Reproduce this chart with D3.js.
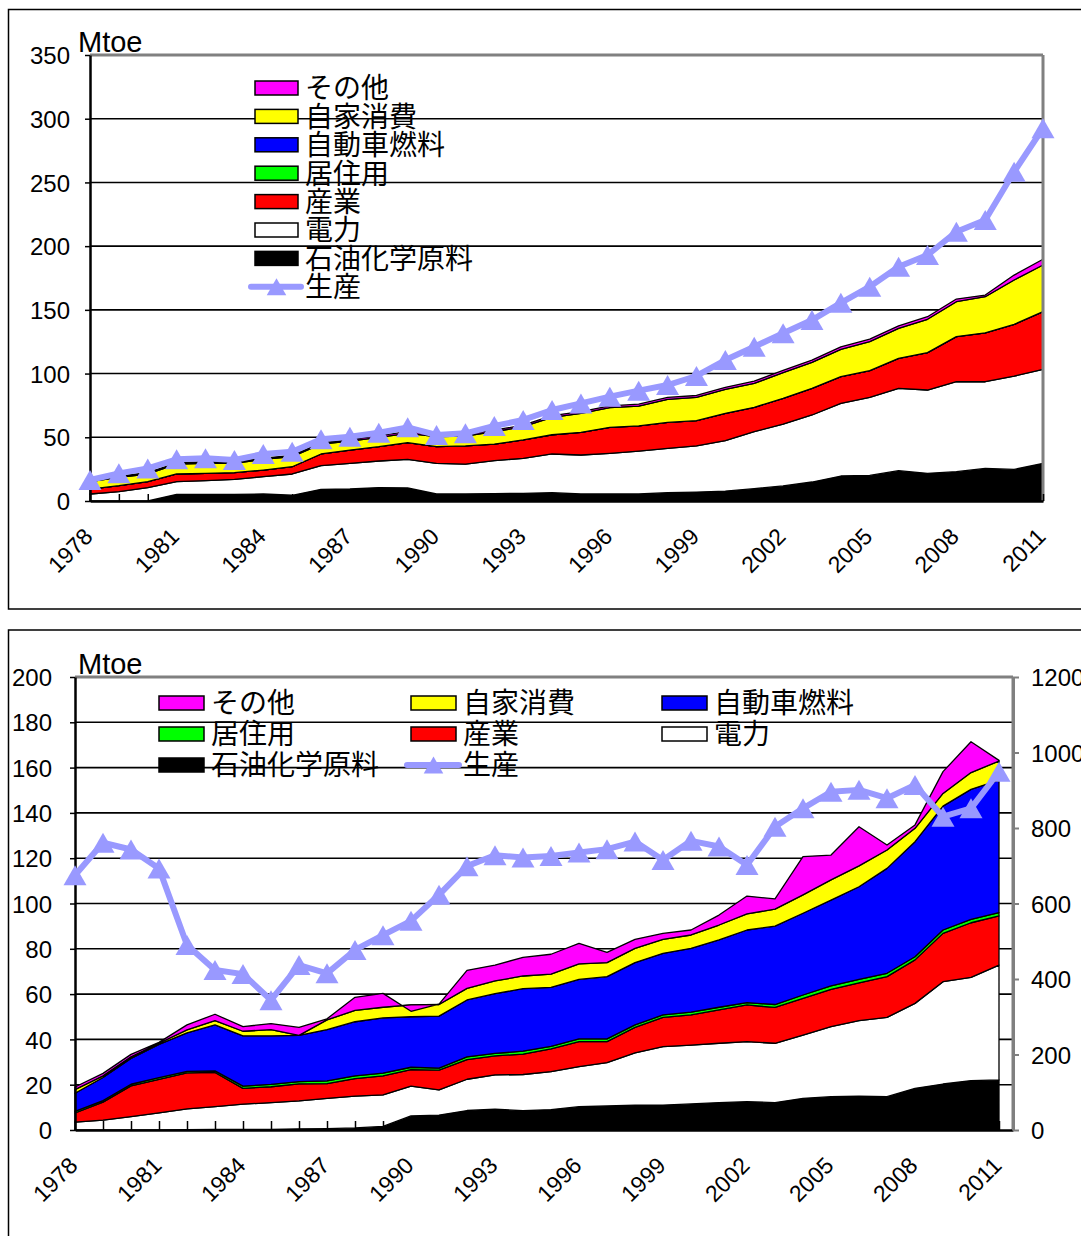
<!DOCTYPE html>
<html>
<head>
<meta charset="utf-8">
<script src="https://cdn.jsdelivr.net/npm/d3@7"></script>
<style>
  html, body { margin: 0; padding: 0; background: #fff; }
  svg { display: block; }
  text { font-family: "Liberation Sans", "Noto Sans CJK JP", sans-serif; fill: #000; }
  .jp { font-family: "Noto Sans CJK JP", sans-serif; }
</style>
</head>
<body>
<svg id="chart" width="1081" height="1236"></svg>
<script>
// ---- categories ----
const years = [1978,1979,1980,1981,1982,1983,1984,1985,1986,1987,1988,1989,1990,1991,1992,1993,1994,
               1995,1996,1997,1998,1999,2000,2001,2002,2003,2004,2005,2006,2007,2008,2009,2010,2011];
const yearLabels = [1978,1981,1984,1987,1990,1993,1996,1999,2002,2005,2008,2011];

// ---- series (stack order, bottom to top) ----
const seriesNames  = ["石油化学原料","電力","産業","居住用","自動車燃料","自家消費","その他"];
const seriesColors = ["#000000","#ffffff","#ff0000","#00ff00","#0000ff","#ffff00","#ff00ff"];
const productionName = "生産";
const productionColor = "#9999ff";

// upper chart (Mtoe)
const topPetchem     = [0,0,0,5.2,5.2,5.2,5.5,4.5,9.2,9.4,10.5,10.2,5.5,5.5,5.8,6.0,6.5,5.5,5.5,5.5,6.5,7.0,7.8,9.7,11.8,14.9,19.6,20.1,23.8,21.7,23.0,25.6,24.8,29.6];
const topPower       = [5.5,7.3,10.5,10.0,10.8,11.8,13.6,16.7,18.5,20.2,20.9,22.5,24.1,23.5,25.9,27.5,30.4,30.6,31.9,33.7,34.8,36.2,39.5,44.7,48.6,52.6,57.0,61.2,64.6,65.4,70.6,68.0,73.2,73.7];
const topIndustry    = [3.9,4.7,4.7,6.0,5.7,5.2,5.2,5.7,9.2,10.4,11.2,13.1,13.0,14.2,13.0,14.4,15.1,17.8,20.4,19.7,20.4,19.8,21.5,19.1,20.2,20.9,21.0,21.0,23.6,29.3,35.4,38.4,40.6,45.3];
const topResidential = [0,0,0,0,0,0,0,0,0,0,0,0,0,0,0,0,0,0,0,0,0,0,0,0,0,0,0,0,0,0,0,0,0,0];
const topTransport   = [0,0,0,0,0,0,0,0,0,0,0,0,0,0,0,0,0,0,0,0,0,0,0,0,0,0,0,0,0,0,0,0,0,0];
const topOwnUse      = [5.8,6.6,6.0,7.8,7.9,7.4,8.4,7.9,7.8,7.0,7.4,7.3,7.9,7.8,9.7,10.4,13.6,14.9,15.4,15.6,18.1,18.3,18.8,18.8,20.1,20.4,21.4,22.7,23.5,26.2,27.4,28.3,34.8,36.6];
const topOther       = [1.0,1.0,1.0,1.0,1.0,1.0,1.0,1.0,1.0,1.0,1.3,1.3,1.2,1.2,1.2,1.2,1.4,1.4,1.4,1.5,1.5,1.5,1.6,1.7,1.8,1.8,2.0,2.0,2.0,2.0,2.1,1.3,3.9,4.5];
const topProduction  = [16.5,21.7,25.6,32.7,33.5,32.2,36.9,38.7,48.4,50.5,53.6,57.8,51.8,53.1,58.9,63.6,71.4,76.6,81.9,86.6,91.0,98.1,110.6,121.1,131.6,142.0,155.5,168.2,183.9,193.0,211.3,220.5,258.4,292.5];
const topTicks       = [0,50,100,150,200,250,300,350];

// lower chart (Mtoe, production on the right-hand axis)
const bottomPetchem     = [0,0,0,0,0.2,0.3,0.3,0.3,0.5,0.6,0.9,1.6,6.2,6.6,8.6,9.2,8.5,9.0,10.3,10.6,11.0,11.0,11.5,12.1,12.5,12.1,14.0,14.7,15.0,14.7,18.4,20.3,21.8,22.1];
const bottomPower       = [3.5,4.4,5.9,7.6,9.1,10.0,11.1,11.8,12.4,13.4,14.1,13.9,13.2,11.1,13.8,15.1,16.0,16.8,17.7,19.1,23.1,25.8,26.0,26.2,26.5,26.2,27.9,30.9,33.3,35.0,37.5,45.2,45.6,50.7];
const bottomIndustry    = [4.0,7.9,13.6,14.8,15.9,15.1,7.0,7.0,7.5,6.5,7.7,8.4,7.3,8.7,8.7,8.4,9.0,10.0,11.0,9.3,11.2,12.9,13.3,14.7,16.2,15.8,16.2,16.5,16.7,18.0,19.2,21.3,24.1,21.7];
const bottomResidential = [0.7,0.7,0.7,0.7,0.7,0.7,1.0,1.0,1.0,1.2,1.2,1.2,1.0,0.9,1.2,1.1,1.3,1.1,1.2,1.2,1.1,1.1,1.2,1.2,1.0,1.3,1.5,1.5,1.5,1.5,1.4,1.5,1.5,1.5];
const bottomTransport   = [8.0,10.2,11.4,14.7,17.0,20.3,22.2,21.5,20.4,22.6,23.9,24.4,22.3,23.0,25.1,26.4,27.6,26.1,26.3,27.5,27.5,27.2,28.2,29.7,32.1,34.6,36.1,37.9,40.9,46.3,50.8,54.7,57.4,58.5];
const bottomOwnUse      = [1.6,0.7,0.7,0.5,1.3,1.9,2.0,2.7,0.0,4.3,5.0,4.7,5.2,5.1,5.1,5.6,5.6,5.8,6.8,6.2,6.3,6.2,5.9,6.6,7.1,7.5,8.1,8.9,9.2,8.1,5.9,5.6,7.4,8.4];
const bottomOther       = [1.2,1.1,1.1,0.4,2.2,2.8,2.0,2.7,3.5,0.5,5.8,6.1,-2.8,0.2,8.0,7.0,8.2,8.8,9.1,4.5,4.0,2.6,2.2,4.4,7.9,4.5,16.9,11.0,17.3,2.2,1.5,9.6,13.6,0.3];
const bottomProduction  = [675,761,743,693,490,424,413,344,437,415,477,516,554,623,699,728,722,726,735,744,764,715,766,751,702,803,852,896,901,879,914,830,852,949];
const bottomTicks       = [0,20,40,60,80,100,120,140,160,180,200];
const bottomRightTicks  = [0,200,400,600,800,1000,1200];

// legend order (top to bottom / row by row)
const legendOrder = ["その他","自家消費","自動車燃料","居住用","産業","電力","石油化学原料","生産"];

const svg = d3.select("#chart");
const FONT = '"Liberation Sans", "Noto Sans CJK JP", sans-serif';
const triangle = "M0,-10L11.5,10L-11.5,10Z";

// chart-area frames
svg.append("rect").attr("x", 8.5).attr("y", 9.5).attr("width", 1100).attr("height", 599.5)
  .attr("fill", "none").attr("stroke", "#000").attr("stroke-width", 1.5);
svg.append("rect").attr("x", 8.5).attr("y", 630).attr("width", 1100).attr("height", 640)
  .attr("fill", "none").attr("stroke", "#000").attr("stroke-width", 1.5);

function drawPanel(o) {
  const g = svg.append("g");
  const { x, y, left, right, top, bottom } = o;

  // horizontal gridlines
  g.selectAll("line.grid").data(o.ticks.filter(v => v > 0 && v < o.ticks[o.ticks.length - 1]))
    .join("line")
    .attr("x1", left).attr("x2", right)
    .attr("y1", d => y(d)).attr("y2", d => y(d))
    .attr("stroke", "#000").attr("stroke-width", 1.6);

  // stacked areas
  const table = years.map((yr, i) => {
    const row = { year: yr };
    seriesNames.forEach((k, j) => row[k] = o.cols[j][i]);
    return row;
  });
  const layers = d3.stack().keys(seriesNames)(table);
  const area = d3.area()
    .x(d => x(d.data.year))
    .y0(d => y(d[0]))
    .y1(d => y(d[1]));
  g.selectAll("path.layer").data(layers).join("path")
    .attr("d", area)
    .attr("fill", (d, i) => seriesColors[i])
    .attr("stroke", "#000").attr("stroke-width", 1.3)
    .attr("stroke-linejoin", "round");

  // plot border (top, right)
  g.append("line").attr("x1", left).attr("x2", right).attr("y1", top).attr("y2", top)
    .attr("stroke", "#808080").attr("stroke-width", 3);
  g.append("line").attr("x1", right).attr("x2", right).attr("y1", top).attr("y2", bottom)
    .attr("stroke", "#808080").attr("stroke-width", 3);

  // left value axis
  const ay = g.append("g").attr("transform", `translate(${left},0)`)
    .call(d3.axisLeft(y).tickValues(o.ticks).tickSize(5).tickSizeOuter(0).tickPadding(o.labelGap));
  ay.attr("font-family", FONT).attr("font-size", 24);
  ay.select(".domain").attr("stroke", "#000").attr("stroke-width", 2.5);
  ay.selectAll(".tick line").attr("stroke", "#000").attr("stroke-width", 1.5);
  ay.selectAll(".tick text").attr("dy", "0.36em");

  // category axis with a tick at every year
  const ax = g.append("g").attr("transform", `translate(0,${bottom})`)
    .call(d3.axisBottom(x).tickValues(years).tickSize(-o.tickLen).tickSizeOuter(0).tickFormat(""));
  ax.select(".domain").attr("stroke", "#000").attr("stroke-width", 2.5);
  ax.selectAll(".tick line").attr("stroke", "#000").attr("stroke-width", 1.5);

  g.selectAll("text.xl").data(yearLabels).join("text")
    .attr("transform", d => `translate(${x(d) + 4},${bottom + 37}) rotate(-45)`)
    .attr("text-anchor", "end")
    .attr("font-size", 23)
    .text(d => d);

  // unit label
  g.append("text").attr("x", 78).attr("y", top - 3).attr("font-size", 29).text("Mtoe");

  // secondary axis for production
  if (o.y2) {
    const ar = g.append("g").attr("transform", `translate(${right},0)`)
      .call(d3.axisRight(o.y2).tickValues(o.ticks2).tickFormat(d3.format("d"))
        .tickSize(6).tickSizeOuter(0).tickPadding(12));
    ar.attr("font-family", FONT).attr("font-size", 24);
    ar.select(".domain").attr("stroke", "#808080").attr("stroke-width", 3);
    ar.selectAll(".tick line").attr("stroke", "#808080").attr("stroke-width", 2);
    ar.selectAll(".tick text").attr("dy", "0.36em");
  }

  // production line with triangle markers
  const yp = o.y2 || y;
  const line = d3.line().x((d, i) => x(years[i])).y(d => yp(d));
  g.append("path").datum(o.prod).attr("d", line)
    .attr("fill", "none").attr("stroke", productionColor).attr("stroke-width", 6)
    .attr("stroke-linejoin", "round");
  g.selectAll("path.mk").data(o.prod).join("path")
    .attr("d", triangle)
    .attr("transform", (d, i) => `translate(${x(years[i])},${yp(d)})`)
    .attr("fill", productionColor);

  // legend
  const lg = g.append("g");
  legendOrder.forEach((name, k) => {
    const p = o.legendPos(k);
    if (name === productionName) {
      lg.append("line").attr("x1", p.x - 4).attr("x2", p.x + o.swW + 3)
        .attr("y1", p.y).attr("y2", p.y)
        .attr("stroke", productionColor).attr("stroke-width", 6).attr("stroke-linecap", "round");
      lg.append("path").attr("d", triangle)
        .attr("transform", `translate(${p.x + o.swW / 2},${p.y}) scale(0.85)`)
        .attr("fill", productionColor);
    } else {
      const idx = seriesNames.indexOf(name);
      lg.append("rect").attr("x", p.x).attr("y", p.y - 7).attr("width", o.swW).attr("height", 14)
        .attr("fill", seriesColors[idx]).attr("stroke", "#000").attr("stroke-width", 1.5);
    }
    lg.append("text").attr("class", "jp")
      .attr("x", p.x + o.swW + 7).attr("y", p.y).attr("dy", "0.37em")
      .attr("font-size", 28).text(name);
  });
}

// upper panel
drawPanel({
  left: 90, right: 1043, top: 55, bottom: 501,
  x: d3.scaleLinear().domain([1978, 2011]).range([90, 1043]),
  y: d3.scaleLinear().domain([0, 350]).range([501, 55]),
  ticks: topTicks, labelGap: 15, tickLen: 7,
  cols: [topPetchem, topPower, topIndustry, topResidential, topTransport, topOwnUse, topOther],
  prod: topProduction,
  swW: 43,
  legendPos: k => ({ x: 255, y: 88 + k * 28.4 })
});

// lower panel
const lowerCols = [159, 411, 662];
drawPanel({
  left: 75, right: 1013, top: 677, bottom: 1130,
  x: d3.scaleLinear().domain([1978, 2011.5]).range([75, 1013]),
  y: d3.scaleLinear().domain([0, 200]).range([1130, 677]),
  y2: d3.scaleLinear().domain([0, 1200]).range([1130, 677]),
  ticks: bottomTicks, ticks2: bottomRightTicks, labelGap: 18, tickLen: 9,
  cols: [bottomPetchem, bottomPower, bottomIndustry, bottomResidential, bottomTransport, bottomOwnUse, bottomOther],
  prod: bottomProduction,
  swW: 45,
  legendPos: k => ({ x: lowerCols[k % 3], y: 703 + Math.floor(k / 3) * 31 })
});
</script>
</body>
</html>
